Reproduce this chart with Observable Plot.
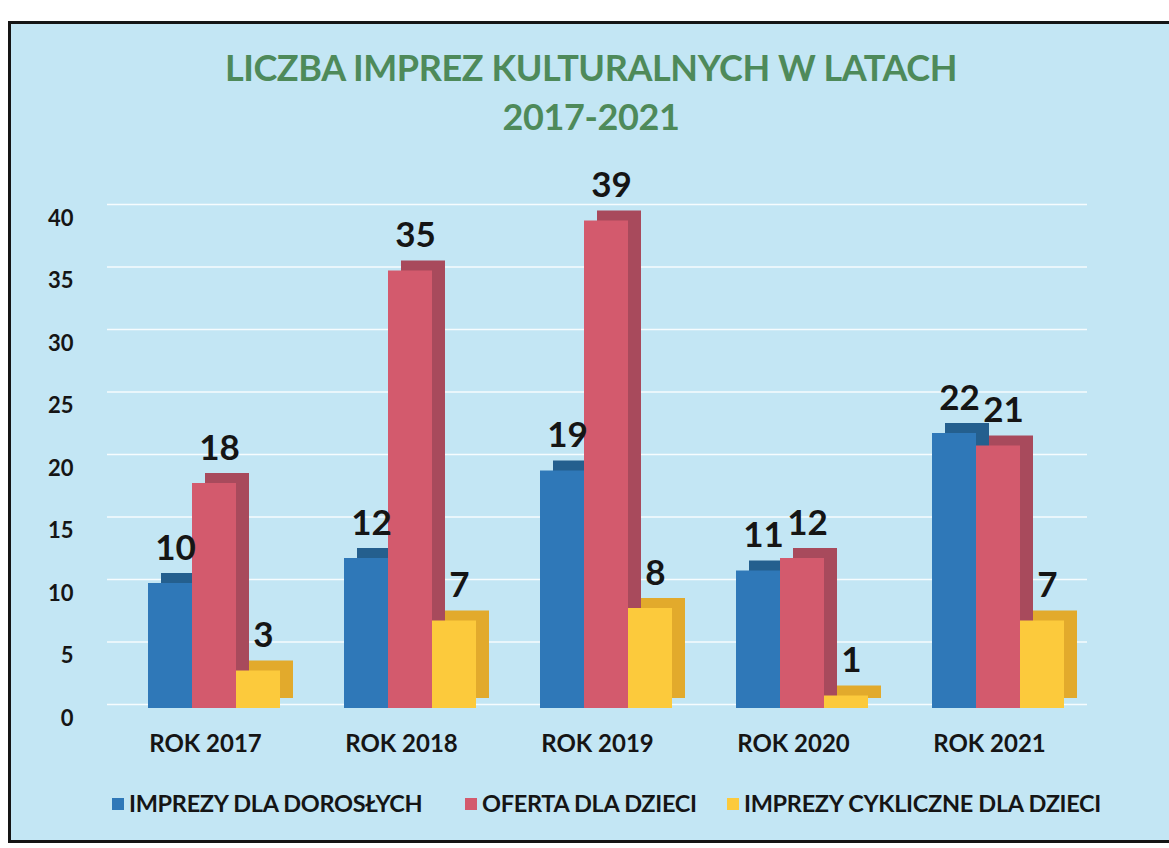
<!DOCTYPE html>
<html><head><meta charset="utf-8">
<script src="https://cdn.jsdelivr.net/npm/d3@7"></script>
<script src="https://cdn.jsdelivr.net/npm/@observablehq/plot@0.6"></script>
<style>
html,body{margin:0;padding:0;}
body{width:1169px;height:848px;overflow:hidden;background:#fff;font-family:Lato,"Open Sans",sans-serif;position:relative;}
#panel{position:absolute;left:8px;top:21px;width:1170px;height:816px;background:#c3e6f4;border-left:3px solid #151515;border-top:3px solid #151515;border-bottom:3px solid #151515;}
.t{position:absolute;left:0;width:1182px;text-align:center;color:#4e8a5a;font-weight:700;font-size:36px;letter-spacing:-0.4px;}
#chart{position:absolute;left:0;top:150px;}
.lg{position:absolute;top:789px;font-weight:700;font-size:23.5px;color:#151515;white-space:nowrap;letter-spacing:-0.3px;}
.sw{display:inline-block;width:12px;height:12px;margin-right:5px;vertical-align:2px;}
</style></head>
<body>
<div id="panel"></div>
<div class="t" style="top:45px">LICZBA IMPREZ KULTURALNYCH W LATACH</div>
<div class="t" style="top:94px">2017-2021</div>
<div id="chart"></div>
<div id="legend"></div>
<script>
const years = ["ROK 2017","ROK 2018","ROK 2019","ROK 2020","ROK 2021"];
const series = ["IMPREZY DLA DOROSŁYCH","OFERTA DLA DZIECI","IMPREZY CYKLICZNE DLA DZIECI"];
const adults = [10,12,19,11,22];
const kids = [18,35,39,12,21];
const cyclic = [3,7,8,1,7];
const yTicks = [0,5,10,15,20,25,30,35,40];

const frontColors = ["#2f78b8","#d35a6d","#fcca3c"];
const sideColors = ["#245f8e","#a84a5c","#e2aa2c"];

const values = [adults, kids, cyclic];
const data = [];
years.forEach((yr,i)=>series.forEach((s,j)=>data.push({year:yr, series:s, value:values[j][i]})));
const side = d3.scaleOrdinal(series, sideColors);

const chart = Plot.plot({
  width:1130, height:612,
  marginLeft:107, marginRight:43, marginTop:58, marginBottom:54,
  style:{background:"transparent", fontFamily:"Lato, 'Open Sans', sans-serif", color:"#151515"},
  fx:{domain:years, padding:0, label:null},
  x:{domain:series, axis:null, paddingInner:0, paddingOuter:0.727, align:0.64},
  y:{domain:[0,40], axis:null},
  color:{domain:series, range:frontColors},
  marks:[
    Plot.gridY(yTicks, {stroke:"#ffffff", strokeOpacity:0.85, strokeWidth:1.5, dy:-4}),
    Plot.axisY(yTicks, {tickSize:0, tickPadding:34, dy:10, fontSize:22, fontWeight:"bold", label:null, fill:"#151515"}),
    Plot.axisFx({anchor:"bottom", tickSize:0, tickPadding:26, fontSize:24, fontWeight:"bold", label:null, fill:"#151515"}),
    Plot.barY(data, {fx:"year", x:"series", y:"value", fill:d=>side(d.series), dx:13, dy:-10}),
    Plot.barY(data, {fx:"year", x:"series", y:"value", fill:"series"}),
    Plot.text(data, {fx:"year", x:"series", y:"value", text:"value", dy:-35, dx:5, fontSize:35, fontWeight:"bold", fill:"#151515"})
  ]
});
document.getElementById("chart").appendChild(chart);

const legendPos = [112, 465, 727];
const lg = document.getElementById("legend");
series.forEach((s,i)=>{
  const el = document.createElement("div");
  el.className = "lg";
  el.style.left = legendPos[i] + "px";
  el.innerHTML = `<span class="sw" style="background:${frontColors[i]}"></span>${s}`;
  lg.appendChild(el);
});
</script>
</body></html>
